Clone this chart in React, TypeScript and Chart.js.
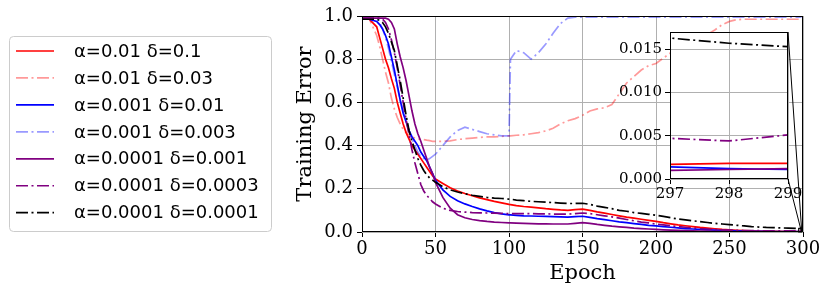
import React, { useEffect, useRef } from "react";
import { Chart, registerables } from "chart.js";
Chart.register(...registerables);

// ---------------- DATA ----------------
const epochs = [
  0, 5,
  10, 12, 14, 16, 18, 20, 22, 24, 26, 28, 30,
  32, 34, 36, 38, 40, 42, 44, 46, 48, 50,
  55, 60, 65, 70, 75, 80, 85, 90, 95, 100,
  101,
  105, 110, 115, 120, 125, 130, 135, 140,
  145, 150, 155, 160, 165, 170, 175, 180,
  185, 190, 195, 200, 205, 210, 215, 220,
  225, 230, 235, 240, 245, 250, 255, 260,
  265, 270, 275, 280, 285, 290, 295,
  297, 298, 299,
];

const red = [
  0.985, 0.985,
  0.95, 0.9, 0.85, 0.8, 0.76, 0.71, 0.665, 0.6, 0.55, 0.5, 0.46,
  0.43, 0.4, 0.38, 0.36, 0.34, 0.32, 0.3, 0.28, 0.26, 0.245,
  0.225, 0.205, 0.19, 0.178, 0.168, 0.158, 0.15, 0.142, 0.135, 0.128,
  0.127,
  0.122, 0.118, 0.115, 0.112, 0.108, 0.105, 0.102, 0.1,
  0.104, 0.106, 0.1, 0.093, 0.087, 0.081, 0.075, 0.069,
  0.064, 0.059, 0.054, 0.049, 0.043, 0.038, 0.033, 0.029,
  0.025, 0.021, 0.018, 0.015, 0.012, 0.01, 0.008, 0.0065,
  0.0055, 0.0045, 0.0035, 0.003, 0.0025, 0.002, 0.0018,
  0.0017, 0.0018, 0.0018,
];

const lightRed = [
  0.985, 0.985,
  0.91, 0.86, 0.8, 0.74, 0.69, 0.62, 0.57, 0.53, 0.5, 0.475, 0.46,
  0.45, 0.44, 0.435, 0.43, 0.43, 0.428, 0.425, 0.423, 0.42, 0.42,
  0.42, 0.422, 0.428, 0.432, 0.435, 0.438, 0.44, 0.44, 0.443, 0.445,
  0.445,
  0.448, 0.45, 0.455, 0.46, 0.468, 0.48, 0.5, 0.515,
  0.525, 0.54, 0.56, 0.57, 0.575, 0.59, 0.64, 0.69,
  0.72, 0.75, 0.77, 0.78, 0.805, 0.83, 0.85, 0.87,
  0.89, 0.9, 0.915, 0.935, 0.96, 0.975, 0.983, 0.985,
  0.985, 0.985, 0.985, 0.985, 0.985, 0.985, 0.985,
  0.985, 0.985, 0.985,
];

const blue = [
  0.985, 0.985,
  0.975, 0.96, 0.94, 0.91, 0.87, 0.81, 0.75, 0.68, 0.61, 0.55, 0.51,
  0.47, 0.44, 0.42, 0.4, 0.37, 0.35, 0.33, 0.3, 0.27, 0.24,
  0.195, 0.165, 0.145, 0.13, 0.118, 0.107, 0.098, 0.09, 0.084, 0.079,
  0.079,
  0.077, 0.075, 0.074, 0.073, 0.072, 0.071, 0.07, 0.069,
  0.071, 0.073, 0.068, 0.062, 0.057, 0.052, 0.047, 0.043,
  0.039, 0.035, 0.031, 0.028, 0.025, 0.022, 0.019, 0.016,
  0.014, 0.012, 0.01, 0.0085, 0.007, 0.006, 0.005, 0.0042,
  0.0035, 0.003, 0.0025, 0.0021, 0.0018, 0.0016, 0.0015,
  0.0014, 0.0012, 0.0011,
];

const lightBlue = [
  0.99, 0.99,
  0.985, 0.97, 0.94, 0.9, 0.85, 0.79, 0.73, 0.67, 0.61, 0.56, 0.51,
  0.47, 0.43, 0.4, 0.37, 0.35, 0.34, 0.333, 0.34, 0.35, 0.36,
  0.4, 0.44, 0.47, 0.485, 0.475, 0.465, 0.455, 0.45, 0.445, 0.445,
  0.8,
  0.84, 0.83, 0.8, 0.83, 0.87, 0.92, 0.965, 0.99,
  0.995, 0.995, 0.995, 0.995, 0.995, 0.995, 0.995, 0.995,
  0.995, 0.995, 0.995, 0.995, 0.995, 0.995, 0.995, 0.995,
  0.995, 0.995, 0.995, 0.995, 0.995, 0.995, 0.995, 0.995,
  0.995, 0.995, 0.995, 0.995, 0.995, 0.995, 0.995,
  0.995, 0.995, 0.995,
];

const purple = [
  0.99, 0.99,
  0.99, 0.99, 0.99, 0.99, 0.985, 0.97, 0.94, 0.87, 0.81, 0.76, 0.7,
  0.63, 0.56, 0.5, 0.455, 0.42, 0.38, 0.34, 0.3, 0.27, 0.23,
  0.16, 0.11, 0.08, 0.066, 0.058, 0.053, 0.049, 0.046, 0.044, 0.042,
  0.042,
  0.041, 0.04, 0.039, 0.038, 0.038, 0.037, 0.037, 0.037,
  0.04, 0.043, 0.04, 0.035, 0.031, 0.027, 0.024, 0.021,
  0.018, 0.016, 0.014, 0.012, 0.01, 0.0085, 0.0072, 0.006,
  0.005, 0.0042, 0.0036, 0.003, 0.0027, 0.0024, 0.0021, 0.0019,
  0.0017, 0.0015, 0.0014, 0.0013, 0.0012, 0.0011, 0.0011,
  0.001, 0.0011, 0.0012,
];

const purpleDash = [
  0.99, 0.99,
  0.99, 0.99, 0.985, 0.97, 0.94, 0.89, 0.83, 0.76, 0.68, 0.6, 0.52,
  0.45, 0.38, 0.32, 0.27, 0.22, 0.19, 0.17, 0.155, 0.14, 0.13,
  0.11, 0.1, 0.095, 0.092, 0.09, 0.089, 0.088, 0.087, 0.086, 0.085,
  0.085,
  0.085, 0.085, 0.085, 0.084, 0.084, 0.083, 0.083, 0.083,
  0.085, 0.088, 0.085, 0.08, 0.075, 0.07, 0.064, 0.058,
  0.052, 0.046, 0.042, 0.037, 0.033, 0.029, 0.025, 0.022,
  0.019, 0.016, 0.014, 0.012, 0.01, 0.009, 0.008, 0.007,
  0.0065, 0.006, 0.0055, 0.0052, 0.005, 0.0049, 0.0048,
  0.0047, 0.0044, 0.0051,
];

const black = [
  0.985, 0.985,
  0.985, 0.98, 0.97, 0.95, 0.92, 0.88, 0.84, 0.77, 0.7, 0.62, 0.54,
  0.47, 0.42, 0.38, 0.34, 0.31, 0.285, 0.265, 0.25, 0.24, 0.23,
  0.21, 0.195, 0.185, 0.177, 0.17, 0.165, 0.16, 0.157, 0.155, 0.152,
  0.152,
  0.148, 0.145, 0.142, 0.14, 0.138, 0.136, 0.134, 0.132,
  0.132, 0.133, 0.128, 0.12, 0.114, 0.108, 0.1, 0.096,
  0.09, 0.086, 0.082, 0.078, 0.072, 0.066, 0.06, 0.056,
  0.052, 0.048, 0.044, 0.04, 0.037, 0.034, 0.031, 0.028,
  0.025, 0.023, 0.021, 0.02, 0.019, 0.018, 0.017,
  0.0163, 0.0157, 0.0153,
];

const seriesLabels = [
  "α=0.01 δ=0.1",
  "α=0.01 δ=0.03",
  "α=0.001 δ=0.01",
  "α=0.001 δ=0.003",
  "α=0.0001 δ=0.001",
  "α=0.0001 δ=0.0003",
  "α=0.0001 δ=0.0001",
];
const seriesValues = [red, lightRed, blue, lightBlue, purple, purpleDash, black];

const xTicksMain = [0, 50, 100, 150, 200, 250, 300];
const yTicksMain = [0, 0.2, 0.4, 0.6, 0.8, 1.0];
const xTicksInset = [297, 298, 299];
const yTicksInset = [0, 0.005, 0.01, 0.015];
const insetXRange = [297, 299];
const insetYRange = [0, 0.017];

// ---------------- STYLE ----------------
const seriesColors = [
  "#ff0000",
  "rgba(255,0,0,0.4)",
  "#0000ff",
  "rgba(0,0,255,0.4)",
  "#800080",
  "#800080",
  "#000000",
];
const seriesDashDot = [false, true, false, true, false, true, true];
const DASHDOT = [12, 3.5, 2, 3.5];
const W = 831;
const H = 294;
const SERIF = "'DejaVu Serif', serif";
const SANS = "'DejaVu Sans', sans-serif";
const GRID = "#b0b0b0";

function makeDatasets() {
  return seriesValues.map((vals, i) => ({
    label: seriesLabels[i],
    data: epochs.map((e, j) => ({ x: e, y: vals[j] })),
    borderColor: seriesColors[i],
    backgroundColor: seriesColors[i],
    borderWidth: 1.7,
    borderDash: seriesDashDot[i] ? DASHDOT : [],
    pointRadius: 0,
    pointHoverRadius: 0,
    tension: 0,
    fill: false,
    order: seriesValues.length - i,
  }));
}

function frameRect(ctx: CanvasRenderingContext2D, a: any) {
  const l = Math.round(a.left) + 0.5;
  const t = Math.round(a.top) + 0.5;
  const r = Math.round(a.right) - 0.5;
  const b = Math.round(a.bottom) - 0.5;
  ctx.save();
  ctx.strokeStyle = "#000";
  ctx.lineWidth = 1;
  ctx.setLineDash([]);
  ctx.strokeRect(l, t, r - l, b - t);
  ctx.restore();
}

export default function App() {
  const mainRef = useRef<HTMLCanvasElement>(null);
  const insetRef = useRef<HTMLCanvasElement>(null);

  useEffect(() => {
    const framePlugin = {
      id: "frame",
      afterDatasetsDraw(chart: any) {
        frameRect(chart.ctx, chart.chartArea);
      },
    };

    const legendPlugin = {
      id: "boxLegend",
      afterDraw(chart: any) {
        const ctx = chart.ctx as CanvasRenderingContext2D;
        ctx.save();
        ctx.beginPath();
        (ctx as any).roundRect(9.5, 36.5, 262, 195, 4);
        ctx.fillStyle = "rgba(255,255,255,0.8)";
        ctx.fill();
        ctx.strokeStyle = "#cccccc";
        ctx.lineWidth = 1;
        ctx.stroke();
        chart.data.datasets.forEach((ds: any, i: number) => {
          const y = 51 + i * 26.95;
          ctx.beginPath();
          ctx.setLineDash(ds.borderDash || []);
          ctx.strokeStyle = ds.borderColor;
          ctx.lineWidth = ds.borderWidth;
          ctx.moveTo(16, y);
          ctx.lineTo(54, y);
          ctx.stroke();
          ctx.setLineDash([]);
          ctx.fillStyle = "#000";
          ctx.font = `18px ${SANS}`;
          ctx.textBaseline = "middle";
          ctx.textAlign = "left";
          ctx.fillText(ds.label, 74, y + 1);
        });
        ctx.restore();
      },
    };

    const main = new Chart(mainRef.current!, {
      type: "line",
      data: { datasets: makeDatasets() as any },
      options: {
        responsive: false,
        animation: false,
        events: [],
        layout: { padding: { left: 290, right: 28, top: 16, bottom: 0 } },
        plugins: { legend: { display: false }, tooltip: { enabled: false } },
        scales: {
          x: {
            type: "linear",
            min: 0,
            max: 300,
            afterFit: (s: any) => { s.height = 62; },
            afterBuildTicks: (s: any) => { s.ticks = xTicksMain.map((v) => ({ value: v })); },
            ticks: {
              color: "#000",
              font: { family: SERIF, size: 18 },
              padding: 2,
              maxRotation: 0,
              autoSkip: false,
              callback: (v: any) => String(v),
            },
            grid: { color: GRID, lineWidth: 1, tickColor: "#000", tickLength: 5 },
            border: { display: false },
            title: {
              display: true,
              text: "Epoch",
              color: "#000",
              font: { family: SERIF, size: 21 },
              padding: 8,
            },
          },
          y: {
            type: "linear",
            min: 0,
            max: 1,
            afterFit: (s: any) => { s.width = 72; },
            afterBuildTicks: (s: any) => { s.ticks = yTicksMain.map((v) => ({ value: v })); },
            ticks: {
              color: "#000",
              font: { family: SERIF, size: 18 },
              padding: 4,
              autoSkip: false,
              callback: (v: any) => Number(v).toFixed(1),
            },
            grid: { color: GRID, lineWidth: 1, tickColor: "#000", tickLength: 5 },
            border: { display: false },
            title: {
              display: true,
              text: "Training Error",
              color: "#000",
              font: { family: SERIF, size: 21 },
              padding: 3,
            },
          },
        },
      },
      plugins: [framePlugin, legendPlugin],
    } as any);

    const insetPlugin = {
      id: "insetDecor",
      beforeDraw(chart: any) {
        const a = chart.chartArea;
        const ctx = chart.ctx as CanvasRenderingContext2D;
        ctx.save();
        ctx.fillStyle = "#ffffff";
        ctx.fillRect(a.left, a.top, a.right - a.left, a.bottom - a.top);
        ctx.restore();
      },
      afterDraw(chart: any) {
        const a = chart.chartArea;
        const ctx = chart.ctx as CanvasRenderingContext2D;
        frameRect(ctx, a);
        const mx = main.scales.x;
        const my = main.scales.y;
        const rx0 = mx.getPixelForValue(insetXRange[0]);
        const rx1 = mx.getPixelForValue(insetXRange[1]);
        const ryb = my.getPixelForValue(insetYRange[0]);
        const ryt = my.getPixelForValue(insetYRange[1]);
        ctx.save();
        ctx.strokeStyle = "#000";
        ctx.lineWidth = 1;
        ctx.setLineDash([]);
        ctx.strokeRect(rx0, ryt, rx1 - rx0, ryb - ryt);
        ctx.beginPath();
        ctx.moveTo(a.right, a.top);
        ctx.lineTo(rx1, ryt);
        ctx.moveTo(a.right, a.bottom);
        ctx.lineTo(rx1, ryb);
        ctx.stroke();
        ctx.restore();
      },
    };

    const inset = new Chart(insetRef.current!, {
      type: "line",
      data: { datasets: makeDatasets() as any },
      options: {
        responsive: false,
        animation: false,
        events: [],
        layout: { padding: { left: 620, right: 43, top: 32, bottom: 90 } },
        plugins: { legend: { display: false }, tooltip: { enabled: false } },
        scales: {
          x: {
            type: "linear",
            min: insetXRange[0],
            max: insetXRange[1],
            afterFit: (s: any) => { s.height = 25; },
            afterBuildTicks: (s: any) => { s.ticks = xTicksInset.map((v) => ({ value: v })); },
            ticks: {
              color: "#000",
              font: { family: SERIF, size: 15 },
              padding: 1,
              maxRotation: 0,
              autoSkip: false,
              callback: (v: any) => String(v),
            },
            grid: { color: GRID, lineWidth: 1, tickColor: "#000", tickLength: 5 },
            border: { display: false },
          },
          y: {
            type: "linear",
            min: insetYRange[0],
            max: insetYRange[1],
            afterFit: (s: any) => { s.width = 50; },
            afterBuildTicks: (s: any) => { s.ticks = yTicksInset.map((v) => ({ value: v })); },
            ticks: {
              color: "#000",
              font: { family: SERIF, size: 15 },
              padding: 3,
              autoSkip: false,
              callback: (v: any) => Number(v).toFixed(3),
            },
            grid: { color: GRID, lineWidth: 1, tickColor: "#000", tickLength: 5 },
            border: { display: false },
          },
        },
      },
      plugins: [insetPlugin],
    } as any);

    return () => {
      inset.destroy();
      main.destroy();
    };
  }, []);

  return (
    <div style={{ position: "fixed", left: 0, top: 0, width: W, height: H, background: "#fff" }}>
      <canvas ref={mainRef} width={W} height={H} style={{ position: "absolute", left: 0, top: 0 }} />
      <canvas ref={insetRef} width={W} height={H} style={{ position: "absolute", left: 0, top: 0 }} />
    </div>
  );
}
